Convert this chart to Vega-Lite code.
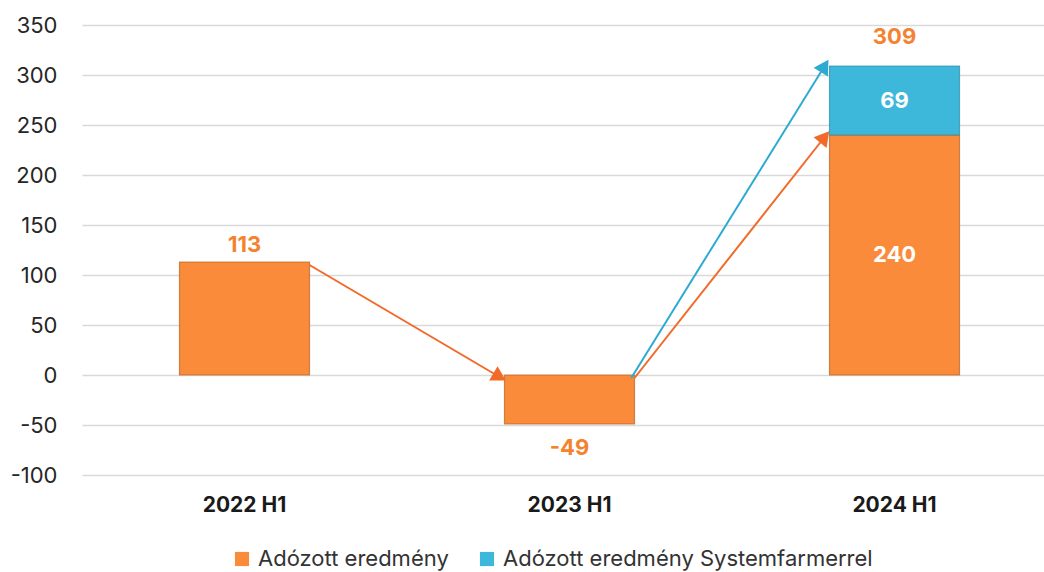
{
  "$schema": "https://vega.github.io/schema/vega-lite/v6.json",
  "width": 962,
  "height": 450,
  "autosize": {"type": "none"},
  "padding": {"left": 82, "top": 25, "right": 0, "bottom": 97},
  "background": "white",
  "config": {
    "font": "Inter",
    "view": {"stroke": null},
    "text": {"font": "Inter"}
  },
  "datasets": {
    "bars": [
      {"period": "2022 H1", "series": "Adózott eredmény", "value": 113},
      {"period": "2023 H1", "series": "Adózott eredmény", "value": -49},
      {"period": "2024 H1", "series": "Adózott eredmény", "value": 240},
      {"period": "2024 H1", "series": "Adózott eredmény Systemfarmerrel", "value": 69}
    ],
    "arrows": [
      {"id": "a1", "from": "2022 H1", "to": "2023 H1", "start": 110, "end": -2},
      {"id": "a2", "from": "2023 H1", "to": "2024 H1", "start": -3, "end": 238},
      {"id": "a3", "from": "2023 H1", "to": "2024 H1", "start": -3, "end": 309}
    ],
    "labels": [
      {"period": "2022 H1", "text": "113", "value": 113},
      {"period": "2023 H1", "text": "-49", "value": -49},
      {"period": "2024 H1", "text": "309", "value": 309}
    ]
  },
  "layer": [
    {
      "data": {"name": "bars"},
      "mark": {"type": "bar", "width": {"band": 0.4}, "strokeWidth": 1.2, "strokeOpacity": 0.7},
      "encoding": {
        "x": {
          "field": "period", "type": "nominal", "title": null,
          "scale": {"domain": ["2022 H1", "2023 H1", "2024 H1"], "range": [0, 975], "paddingInner": 0, "paddingOuter": 0},
          "axis": {"labelAngle": 0, "domain": false, "ticks": false, "grid": false, "labelFontSize": 21, "labelFontWeight": "bold", "labelColor": "#1a1a1a", "labelPadding": 19}
        },
        "y": {
          "field": "value", "type": "quantitative", "title": null, "stack": "zero",
          "scale": {"domain": [-100, 350], "nice": false, "zero": false},
          "axis": {"values": [-100, -50, 0, 50, 100, 150, 200, 250, 300, 350], "domain": false, "ticks": false, "gridColor": "#d9d9d9", "gridWidth": 1.5, "labelFontSize": 22, "labelColor": "#262626", "labelPadding": 25, "labelExpr": "'' + datum.value"}
        },
        "order": {"field": "series", "sort": "ascending"},
        "color": {
          "field": "series", "type": "nominal",
          "scale": {"domain": ["Adózott eredmény", "Adózott eredmény Systemfarmerrel"], "range": ["#F98B3B", "#3DB8DA"]},
          "legend": {"orient": "none", "legendX": 149, "legendY": 523, "direction": "horizontal", "title": null, "symbolType": "square", "symbolSize": 200, "labelFontSize": 22, "labelLimit": 0, "labelColor": "#333333", "columnPadding": 27, "labelOffset": 5, "symbolStrokeWidth": 0}
        },
        "stroke": {
          "field": "series", "type": "nominal",
          "scale": {"domain": ["Adózott eredmény", "Adózott eredmény Systemfarmerrel"], "range": ["#B9601E", "#2A8AA8"]},
          "legend": null
        }
      }
    },
    {
      "data": {"name": "bars"},
      "transform": [{"filter": "datum.period === '2024 H1'"}],
      "mark": {"type": "text", "color": "white", "fontSize": 22, "fontWeight": "bold", "baseline": "middle"},
      "encoding": {
        "x": {"field": "period", "type": "nominal"},
        "y": {"field": "value", "type": "quantitative", "stack": "zero", "bandPosition": 0.5},
        "detail": {"field": "series"},
        "order": {"field": "series", "sort": "ascending"},
        "text": {"field": "value", "type": "quantitative"}
      }
    },
    {
      "data": {"name": "labels"},
      "transform": [{"filter": "datum.period === '2022 H1'"}],
      "mark": {"type": "text", "color": "#F5822F", "fontSize": 22, "fontWeight": "bold", "baseline": "bottom", "dy": -5},
      "encoding": {
        "x": {"field": "period", "type": "nominal"},
        "y": {"field": "value", "type": "quantitative"},
        "text": {"field": "text"}
      }
    },
    {
      "data": {"name": "labels"},
      "transform": [{"filter": "datum.period === '2023 H1'"}],
      "mark": {"type": "text", "color": "#F5822F", "fontSize": 22, "fontWeight": "bold", "baseline": "top", "dy": 14},
      "encoding": {
        "x": {"field": "period", "type": "nominal"},
        "y": {"field": "value", "type": "quantitative"},
        "text": {"field": "text"}
      }
    },
    {
      "data": {"name": "labels"},
      "transform": [{"filter": "datum.period === '2024 H1'"}],
      "mark": {"type": "text", "color": "#F5822F", "fontSize": 22, "fontWeight": "bold", "baseline": "bottom", "dy": -17},
      "encoding": {
        "x": {"field": "period", "type": "nominal"},
        "y": {"field": "value", "type": "quantitative"},
        "text": {"field": "text"}
      }
    },
    {
      "data": {"name": "arrows"},
      "transform": [{"filter": "datum.id === 'a1'"}],
      "layer": [
        {
          "mark": {"type": "rule", "color": "#F26A2A", "strokeWidth": 2},
          "encoding": {
            "x": {"field": "from", "type": "nominal", "bandPosition": 0.7},
            "x2": {"field": "to", "bandPosition": 0.285},
            "y": {"field": "start", "type": "quantitative"},
            "y2": {"field": "end"}
          }
        },
        {
          "mark": {"type": "point", "shape": "triangle-up", "filled": true, "opacity": 1, "color": "#F26A2A", "size": 280, "angle": 120},
          "encoding": {
            "x": {"field": "to", "type": "nominal", "bandPosition": 0.285},
            "y": {"field": "end", "type": "quantitative"}
          }
        }
      ]
    },
    {
      "data": {"name": "arrows"},
      "transform": [{"filter": "datum.id === 'a2'"}],
      "layer": [
        {
          "mark": {"type": "rule", "color": "#F26A2A", "strokeWidth": 2},
          "encoding": {
            "x": {"field": "from", "type": "nominal", "bandPosition": 0.7},
            "x2": {"field": "to", "bandPosition": 0.285},
            "y": {"field": "start", "type": "quantitative"},
            "y2": {"field": "end"}
          }
        },
        {
          "mark": {"type": "point", "shape": "triangle-up", "filled": true, "opacity": 1, "color": "#F26A2A", "size": 280, "angle": 39},
          "encoding": {
            "x": {"field": "to", "type": "nominal", "bandPosition": 0.285},
            "y": {"field": "end", "type": "quantitative"}
          }
        }
      ]
    },
    {
      "data": {"name": "arrows"},
      "transform": [{"filter": "datum.id === 'a3'"}],
      "layer": [
        {
          "mark": {"type": "rule", "color": "#2EAAD2", "strokeWidth": 2},
          "encoding": {
            "x": {"field": "from", "type": "nominal", "bandPosition": 0.69},
            "x2": {"field": "to", "bandPosition": 0.285},
            "y": {"field": "start", "type": "quantitative"},
            "y2": {"field": "end"}
          }
        },
        {
          "mark": {"type": "point", "shape": "triangle-up", "filled": true, "opacity": 1, "color": "#2EAAD2", "size": 280, "angle": 32},
          "encoding": {
            "x": {"field": "to", "type": "nominal", "bandPosition": 0.285},
            "y": {"field": "end", "type": "quantitative"}
          }
        }
      ]
    }
  ]
}
